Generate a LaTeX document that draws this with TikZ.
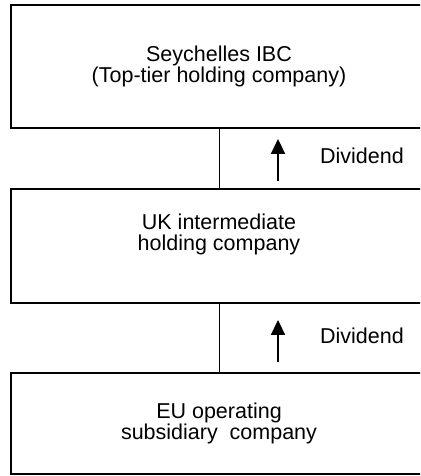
\documentclass[tikz,border=0pt]{standalone}
\usepackage{fontspec}
\setmainfont{Liberation Sans}
\usetikzlibrary{arrows.meta,positioning}
\tikzstyle{company} = [draw, line width=2pt, minimum width=416pt, inner sep=0pt, align=center, font=\fontsize{21.5}{20.8}\selectfont]
\tikzstyle{link} = [line width=1pt]
\tikzstyle{arrow} = [line width=2.2pt,-{Triangle[width=14pt,length=15pt]}]
\tikzstyle{label} = [font=\fontsize{21.5}{20.8}\selectfont]

\begin{document}
\begin{tikzpicture}[x=1pt,y=1pt]
        \clip (0,0) rectangle (420,476);
        \node[company, minimum height=123pt] (ibc) at (219,409.5) {Seychelles IBC\\(Top-tier holding company)};
        \node[company, minimum height=114pt, below=59pt of ibc] (uk) {UK intermediate\\holding company\\[6pt]};
        \node[company, minimum height=101pt, below=68pt of uk] (eu) {EU operating\\subsidiary~ company};
        \draw[link] (ibc) -- (uk);
        \draw[link] (uk) -- (eu);
        \coordinate (tail1) at (278,295);
        \coordinate (tip1) at (278,337);
        \coordinate (tail2) at (278,114);
        \coordinate (tip2) at (278,156);
        \draw[arrow] (tail1) -- (tip1);
        \draw[arrow] (tail2) -- (tip2);
        \node[label] (div1) at (362,320) {Dividend};
        \node[label] (div2) at (362,140) {Dividend};
    \end{tikzpicture}
\end{document}
